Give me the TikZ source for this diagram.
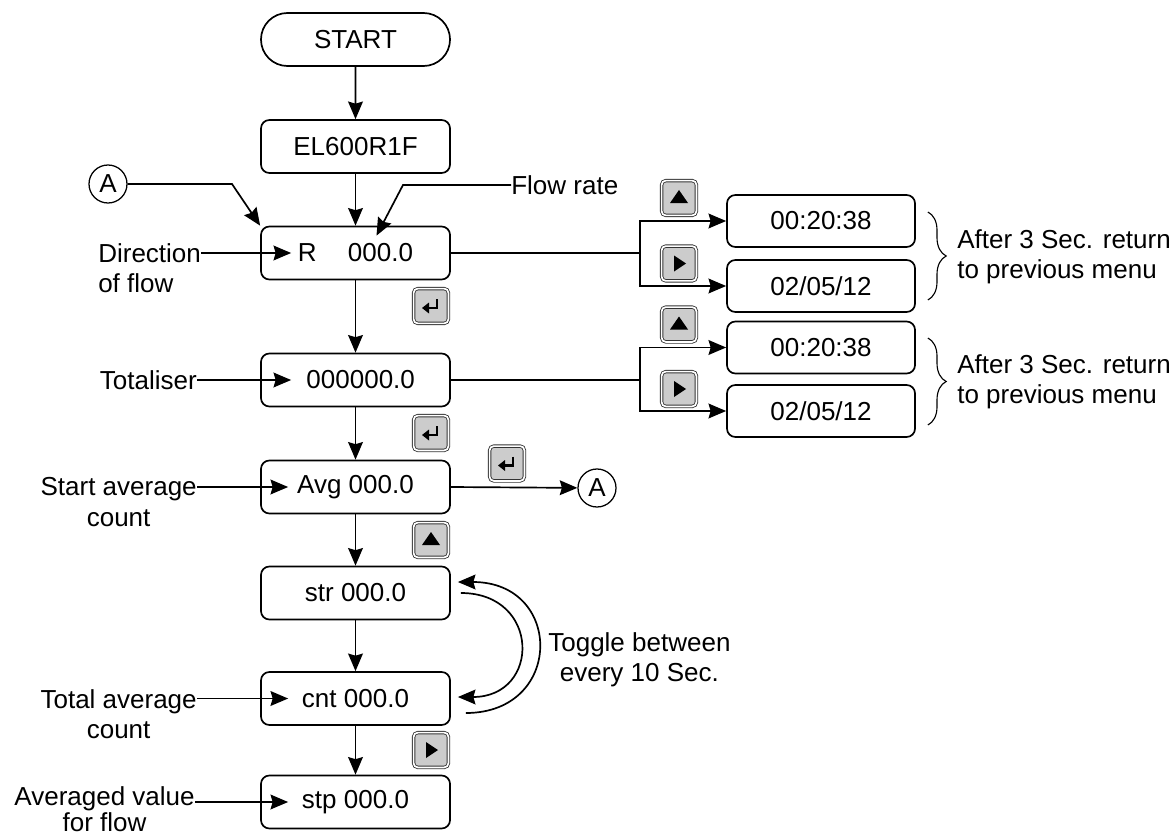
\documentclass[tikz,border=0pt]{standalone}
\usepackage{fontspec}
\setmainfont{Liberation Sans}
\usetikzlibrary{arrows.meta,shapes.misc,calc,decorations.pathreplacing}
\tikzset{
  box/.style={draw, line width=1.2pt, rounded corners=6pt, minimum width=4.725cm, minimum height=1.325cm, inner sep=0pt},
  sidebox/.style={box, minimum width=4.7cm, minimum height=1.3cm},
  pill/.style={draw, line width=1.2pt, rounded rectangle, minimum width=4.725cm, minimum height=1.325cm, inner sep=0pt},
  conn/.style={circle, draw, line width=0.9pt, minimum size=0.95cm, inner sep=0pt},
  lbl/.style={inner sep=0pt},
  plain/.style={line width=1.2pt},
  arr/.style={line width=1.2pt, -{Stealth[length=12.5pt, width=10.5pt, inset=1.5pt]}},
  brace/.style={line width=0.8pt, decorate, decoration={brace, amplitude=13pt}},
  keybtn/.style={draw=black!80, fill=gray!40, line width=0.6pt, double=white, double distance=1.2pt, rounded corners=3pt, minimum size=0.87cm, inner sep=0pt},
  keyup/.pic={\node[keybtn] (-b) {}; \fill (-9,5) -- (9,5) -- (0,-8) -- cycle;},
  keyright/.pic={\node[keybtn] (-b) {}; \fill (-5,-8) -- (-5,8) -- (7,0) -- cycle;},
  keyenter/.pic={\node[keybtn] (-b) {};
    \draw[line width=2.1pt] (6,-7) -- (6,2) -- (-3,2);
    \fill (-9,2) -- (-2,-3.5) -- (-2,7.5) -- cycle;}
}
\begin{document}
\begin{tikzpicture}[x=0.025cm, y=-0.025cm, font=\fontsize{18.5pt}{21.5pt}\selectfont]
  \useasboundingbox (0,0) rectangle (1176,840);
  % Main column
  \node[pill] (start) at (355.5,39.5) {START};
  \node[box] (el) at (355.5,146.5) {EL600R1F};
  \node[box] (rate) at (355.5,253) {R\hspace{1.2em}000.0};
  \node[box] (total) at (355.5,380) {\hspace{0.4em}000000.0};
  \node[box] (avg) at (355.5,487) {Avg 000.0};
  \node[box] (strbox) at (355.5,593) {str 000.0};
  \node[box] (cnt) at (355.5,698.5) {cnt 000.0};
  \node[box] (stp) at (355.5,802) {stp 000.0};
  \draw[arr] (start) -- (el);
  \draw[arr] (el) -- (rate);
  \draw[arr] (rate) -- (total);
  \draw[arr] (total) -- (avg);
  \draw[arr] (avg) -- (strbox);
  \draw[arr] (strbox) -- (cnt);
  \draw[arr] (cnt) -- (stp);
  % Keys along the main column
  \pic (k1) at (431,306) {keyenter};
  \pic (k6) at (431,433) {keyenter};
  \pic (k7) at (507,463.5) {keyenter};
  \pic (k8) at (431,540) {keyup};
  \pic (k9) at (431,750) {keyright};
  % Time and date boxes
  \node[sidebox] (tm1) at (821,221) {00:20:38};
  \node[sidebox] (dt1) at (821,286) {02/05/12};
  \node[sidebox] (tm2) at (821,347.5) {00:20:38};
  \node[sidebox] (dt2) at (821,411) {02/05/12};
  \pic (k2) at (679,198) {keyup};
  \pic (k3) at (679,263.5) {keyright};
  \pic (k4) at (679,324.5) {keyup};
  \pic (k5) at (679,389) {keyright};
  \coordinate (sp1) at (640,253);
  \coordinate (sp2) at (640,380);
  \draw[plain] (rate.east) -- (sp1);
  \draw[arr] (sp1) |- (tm1.west);
  \draw[arr] (sp1) |- (dt1.west);
  \draw[plain] (total.east) -- (sp2);
  \draw[arr] (sp2) |- (tm2.west);
  \draw[arr] (sp2) |- (dt2.west);
  % Return notes
  \draw[brace] ($(tm1.east)+(12,-9)$) -- ($(dt1.east)+(12,14)$);
  \draw[brace] ($(tm2.east)+(12,-9.5)$) -- ($(dt2.east)+(12,14)$);
  \node[lbl, align=left, anchor=west] (ret1) at (957,257) {After 3 Sec. return\\to previous menu};
  \node[lbl, align=left, anchor=west] (ret2) at (957,382) {After 3 Sec. return\\to previous menu};
  % Connector A
  \node[conn] (a1) at (108,184) {A};
  \node[conn] (a2) at (597,488) {A};
  \coordinate (abend) at (232,184);
  \draw[arr] (a1) -- (abend) -- (rate.north west);
  \draw[arr] (avg.east) -- (a2);
  % Flow rate pointer
  \node[lbl, anchor=west] (lblflow) at (511,185) {Flow rate};
  \coordinate (fbend) at (403,185);
  \coordinate (ftip) at ($(rate.north)+(21,10)$);
  \draw[arr] (lblflow.west) -- (fbend) -- (ftip);
  % Left labels
  \node[lbl, align=left, anchor=north west] (lbldir) at (98,243.5) {Direction\\of flow};
  \node[lbl, anchor=east] (lbltot) at (197,380) {Totaliser};
  \node[lbl, align=center, anchor=north east] (lblavg) at (197,477.5) {Start average\\count};
  \node[lbl, align=center, anchor=north east] (lblcnt) at (197,689) {Total average\\count};
  \node[lbl, align=center, anchor=north east] (lblstp) at (195,786) {Averaged value\\[-3pt]for flow};
  \draw[arr] (lbldir.north east |- rate) -- ($(rate.west)+(31,0)$);
  \draw[arr] (lbltot.east) -- ($(total.west)+(31,0)$);
  \draw[arr] (lblavg.north east |- avg) -- ($(avg.west)+(28,0)$);
  \draw[arr] (lblcnt.north east |- cnt) -- ($(cnt.west)+(28,0)$);
  \draw[arr] (lblstp.north east |- stp) -- ($(stp.west)+(28,0)$);
  % Toggle loop
  \draw[arr] ($(strbox.east)+(10,0)$) .. controls +(80,0) and +(83,0) .. ($(cnt.east)+(7,-1.5)$);
  \draw[arr] ($(cnt.east)+(15,14.5)$) .. controls +(98,0) and +(106,0) .. ($(strbox.east)+(7,-11)$);
  \node[lbl, align=center, anchor=west] (lbltog) at (548,660) {Toggle between\\every 10 Sec.};
\end{tikzpicture}
\end{document}
